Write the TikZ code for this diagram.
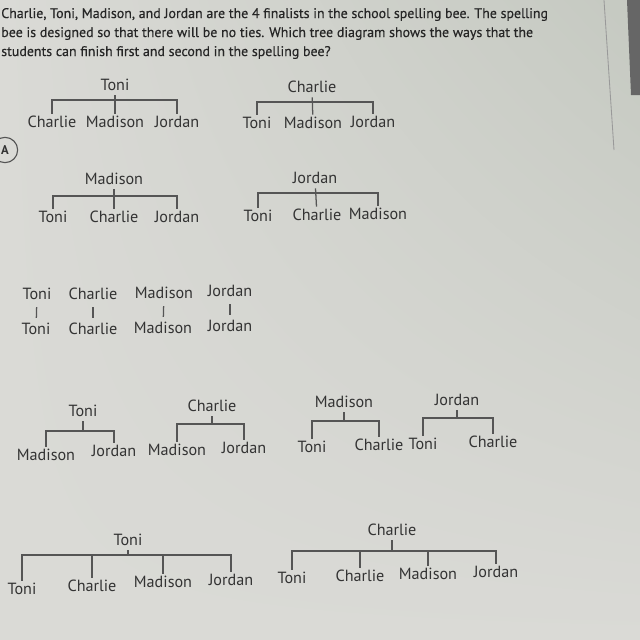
\documentclass[tikz,border=0pt]{standalone}
\usepackage{fontspec}
\setmainfont{PT Sans}
\newfontfamily\headfont{PT Sans}[FakeBold=0.4]
\usetikzlibrary{positioning,calc,shadings}
\definecolor{paper}{HTML}{DADAD6}
\definecolor{paperdark}{HTML}{C5C9C1}
\definecolor{ink}{HTML}{333333}
\definecolor{rule}{HTML}{555555}

\begin{document}
\begin{tikzpicture}[
  x=0.025cm, y=-0.025cm,
  who/.style={font=\fontsize{11.5}{13}\selectfont, text=ink, inner sep=1.5pt, text height=8pt, text depth=2pt},
  qtext/.style={font=\headfont\fontsize{9.9}{12}\selectfont, text=black!85, anchor=base west, inner sep=0pt},
  br/.style={draw=rule, line width=0.9pt}
]
  \useasboundingbox (0,0) rectangle (640,640);
  \shade[upper left=paper, upper right=paperdark, lower left=paper, lower right=paper] (0,0) rectangle (640,640);
  \draw[black!40, line width=0.6pt] (604,0) -- (614,150);
  \fill[black!60] (627,0) -- (640,0) -- (640,95) -- (631,95) -- cycle;

  % question
  \node[qtext] (qline1) at (1,18) {Charlie, Toni, Madison, and Jordan are the 4 finalists in the school spelling bee. The spelling};
  \node[qtext] (qline2) at (1,37) {bee is designed so that there will be no ties. Which tree diagram shows the ways that the};
  \node[qtext] (qline3) at (1,56) {students can finish first and second in the spelling bee?};

  \node[circle, draw=rule, line width=0.8pt, minimum size=18pt, inner sep=0pt, font=\bfseries\small, text=ink] (optA) at (5,150) {A};

  % choice A
  \node[who] (a1) at (115,86) {Toni};
  \node[who] (a1x) at (52,123) {Charlie};
  \node[who] (a1y) at (115,123) {Madison};
  \node[who] (a1z) at (177,123) {Jordan};
  \coordinate (a1bar) at (115,100);
  \draw[br] (a1x.north) -- (a1x.north |- a1bar) -- (a1z.north |- a1bar) -- (a1z.north);
  \draw[br] (a1) -- (a1y);

  \node[who] (a2) at (312,88) {Charlie};
  \node[who] (a2x) at (257,124) {Toni};
  \node[who] (a2y) at (313,124) {Madison};
  \node[who] (a2z) at (373,123) {Jordan};
  \coordinate (a2bar) at (312,102);
  \draw[br] (a2x.north) -- (a2x.north |- a2bar) -- (a2z.north |- a2bar) -- (a2z.north);
  \draw[br] (a2) -- (a2y);

  \node[who] (a3) at (114,180) {Madison};
  \node[who] (a3x) at (53,218) {Toni};
  \node[who] (a3y) at (114,218) {Charlie};
  \node[who] (a3z) at (177,218) {Jordan};
  \coordinate (a3bar) at (114,196);
  \draw[br] (a3x.north) -- (a3x.north |- a3bar) -- (a3z.north |- a3bar) -- (a3z.north);
  \draw[br] (a3) -- (a3y);

  \node[who] (a4) at (315,179) {Jordan};
  \node[who] (a4x) at (258,217) {Toni};
  \node[who] (a4y) at (317,216) {Charlie};
  \node[who] (a4z) at (378,215) {Madison};
  \coordinate (a4bar) at (315,193);
  \draw[br] (a4x.north) -- (a4x.north |- a4bar) -- (a4z.north |- a4bar) -- (a4z.north);
  \draw[br] (a4) -- (a4y);

  % choice B
  \node[who] (b1) at (37,295) {Toni};
  \node[who] (b2) at (93,295) {Charlie};
  \node[who] (b3) at (164,294) {Madison};
  \node[who] (b4) at (230,292) {Jordan};
  \node[who] (b1x) at (36,330) {Toni};
  \node[who] (b2x) at (93,330) {Charlie};
  \node[who] (b3x) at (163,329) {Madison};
  \node[who] (b4x) at (230,327) {Jordan};
  \draw[br, shorten <=2pt, shorten >=2pt] (b1) -- (b1x);
  \draw[br, shorten <=2pt, shorten >=2pt] (b2) -- (b2x);
  \draw[br, shorten <=2pt, shorten >=2pt] (b3) -- (b3x);
  \draw[br, shorten <=2pt, shorten >=2pt] (b4) -- (b4x);

  % choice C
  \node[who] (c1) at (83,412) {Toni};
  \node[who] (c1x) at (46,456) {Madison};
  \node[who] (c1y) at (114,452) {Jordan};
  \coordinate (c1bar) at (83,431);
  \draw[br] (c1x.north) -- (c1x.north |- c1bar) -- (c1y.north |- c1bar) -- (c1y.north);
  \draw[br] (c1) -- (c1bar);

  \node[who] (c2) at (212,407) {Charlie};
  \node[who] (c2x) at (177,451) {Madison};
  \node[who] (c2y) at (244,449) {Jordan};
  \coordinate (c2bar) at (212,424);
  \draw[br] (c2x.north) -- (c2x.north |- c2bar) -- (c2y.north |- c2bar) -- (c2y.north);
  \draw[br] (c2) -- (c2bar);

  \node[who] (c3) at (344,403) {Madison};
  \node[who] (c3x) at (312,448) {Toni};
  \node[who] (c3y) at (379,446) {Charlie};
  \coordinate (c3bar) at (344,421);
  \draw[br] (c3x.north) -- (c3x.north |- c3bar) -- (c3y.north |- c3bar) -- (c3y.north);
  \draw[br] (c3) -- (c3bar);

  \node[who] (c4) at (457,401) {Jordan};
  \node[who] (c4x) at (423,445) {Toni};
  \node[who] (c4y) at (493,443) {Charlie};
  \coordinate (c4bar) at (457,418);
  \draw[br] (c4x.north) -- (c4x.north |- c4bar) -- (c4y.north |- c4bar) -- (c4y.north);
  \draw[br] (c4) -- (c4bar);

  % choice D
  \node[who] (d1) at (128,541) {Toni};
  \node[who] (d1w) at (22,590) {Toni};
  \node[who] (d1x) at (92,587) {Charlie};
  \node[who] (d1y) at (163,583) {Madison};
  \node[who] (d1z) at (231,581) {Jordan};
  \coordinate (d1bar) at (128,555);
  \draw[br] (d1w.north) -- (d1w.north |- d1bar) -- (d1z.north |- d1bar) -- (d1z.north);
  \draw[br] (d1x.north) -- (d1x.north |- d1bar);
  \draw[br] (d1y.north) -- (d1y.north |- d1bar);
  \draw[br] (d1) -- (d1bar);

  \node[who] (d2) at (392,531) {Charlie};
  \node[who] (d2w) at (292,579) {Toni};
  \node[who] (d2x) at (360,577) {Charlie};
  \node[who] (d2y) at (428,575) {Madison};
  \node[who] (d2z) at (496,573) {Jordan};
  \coordinate (d2bar) at (392,551);
  \draw[br] (d2w.north) -- (d2w.north |- d2bar) -- (d2z.north |- d2bar) -- (d2z.north);
  \draw[br] (d2x.north) -- (d2x.north |- d2bar);
  \draw[br] (d2y.north) -- (d2y.north |- d2bar);
  \draw[br] (d2) -- (d2bar);
\end{tikzpicture}
\end{document}
